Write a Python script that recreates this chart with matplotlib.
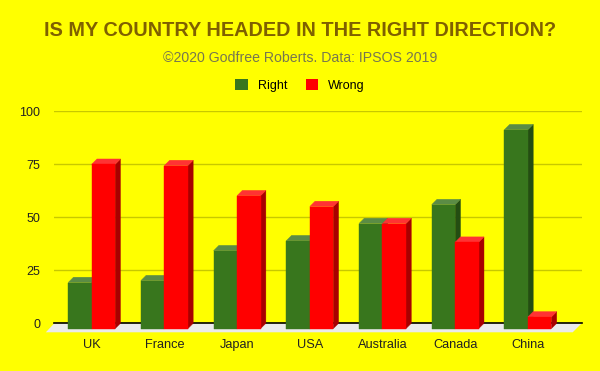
import matplotlib
matplotlib.use('Agg')
import matplotlib.pyplot as plt
from matplotlib.patches import Polygon, Patch
from matplotlib.transforms import IdentityTransform
from matplotlib.lines import Line2D

categories = ['UK', 'France', 'Japan', 'USA', 'Australia', 'Canada', 'China']
right = [21.7, 22.6, 36.7, 41.4, 49.5, 58.4, 93.7]
wrong = [77.4, 76.8, 62.6, 57.5, 49.5, 40.7, 5.5]
yticks = [0, 25, 50, 75, 100]
series_names = ['Right', 'Wrong']

plt.rcParams['font.family'] = ['Liberation Sans', 'DejaVu Sans']

BG = '#ffff00'
GREEN = ('#38761d', '#5b8c45', '#244d12')   # front, top, side
RED = ('#ff0000', '#ff3333', '#a80000')

fig = plt.figure(figsize=(6, 3.71), dpi=100, facecolor=BG)
ax = fig.add_axes([54.3 / 600, (371 - 323.3) / 371, 527.4 / 600, 212.3 / 371])
ax.set_facecolor('none')
ax.set_xlim(-0.514, 6.74)
ax.set_ylim(0, 100)
for s in ax.spines.values():
    s.set_visible(False)
ax.set_yticks(yticks)
ax.set_yticklabels([str(t) for t in yticks], fontsize=9, color='#222222')
ax.set_xticks(range(len(categories)))
ax.set_xticklabels(categories, fontsize=9.2, color='#222222')
ax.tick_params(axis='y', length=0, pad=10)
ax.tick_params(axis='x', length=0, pad=11)
ax.grid(axis='y', color='#c8c800', lw=1)
ax.set_axisbelow(True)

D = 5.3   # bar depth (px)
W = 0.323  # bar width (data units)
T = ax.transData
ident = IdentityTransform()

x_left, y0 = T.transform((-0.514, 0))
x_right, _ = T.transform((6.74, 0))
# floor
floor = Polygon([(x_left, y0), (x_right, y0), (x_right - 9, y0 - 9), (x_left - 8.5, y0 - 9)],
                closed=True, facecolor='#ebebeb', edgecolor='none', transform=ident,
                zorder=1, clip_on=False)
fig.add_artist(floor)
fig.add_artist(Line2D([x_left, x_right], [y0, y0], color='black', lw=1.2,
                      transform=ident, zorder=2))


def draw_bar(xl_data, xr_data, v, cols):
    xl, yv = T.transform((xl_data, v))
    xr, _ = T.transform((xr_data, v))
    front = [(xl, y0 - D), (xr, y0 - D), (xr, yv - D), (xl, yv - D)]
    top = [(xl, yv - D), (xr, yv - D), (xr + D, yv), (xl + D, yv)]
    side = [(xr, y0 - D), (xr + D, y0), (xr + D, yv), (xr, yv - D)]
    for pts, c in ((side, cols[2]), (top, cols[1]), (front, cols[0])):
        fig.add_artist(Polygon(pts, closed=True, facecolor=c, edgecolor=c, lw=0.3,
                               transform=ident, zorder=3))


for i in range(len(categories)):
    draw_bar(i - W, i, right[i], GREEN)
    draw_bar(i, i + W, wrong[i], RED)

fig.text(0.5, 1 - 31 / 371, 'IS MY COUNTRY HEADED IN THE RIGHT DIRECTION?',
         ha='center', va='center', fontsize=14.3, fontweight='bold', color='#7f6000')
fig.text(0.5, 1 - 58 / 371, '©2020 Godfree Roberts. Data: IPSOS 2019',
         ha='center', va='center', fontsize=10.2, color='#77774f')

handles = [Patch(facecolor=GREEN[0], edgecolor='none'), Patch(facecolor=RED[0], edgecolor='none')]
fig.legend(handles, series_names, loc='center', bbox_to_anchor=(0.5, 1 - 85.5 / 371),
           ncol=2, frameon=False, fontsize=9, handlelength=1.0, handleheight=1.0,
           handletextpad=0.8, columnspacing=1.5)

fig.savefig('out.png', dpi=100, facecolor=BG)
